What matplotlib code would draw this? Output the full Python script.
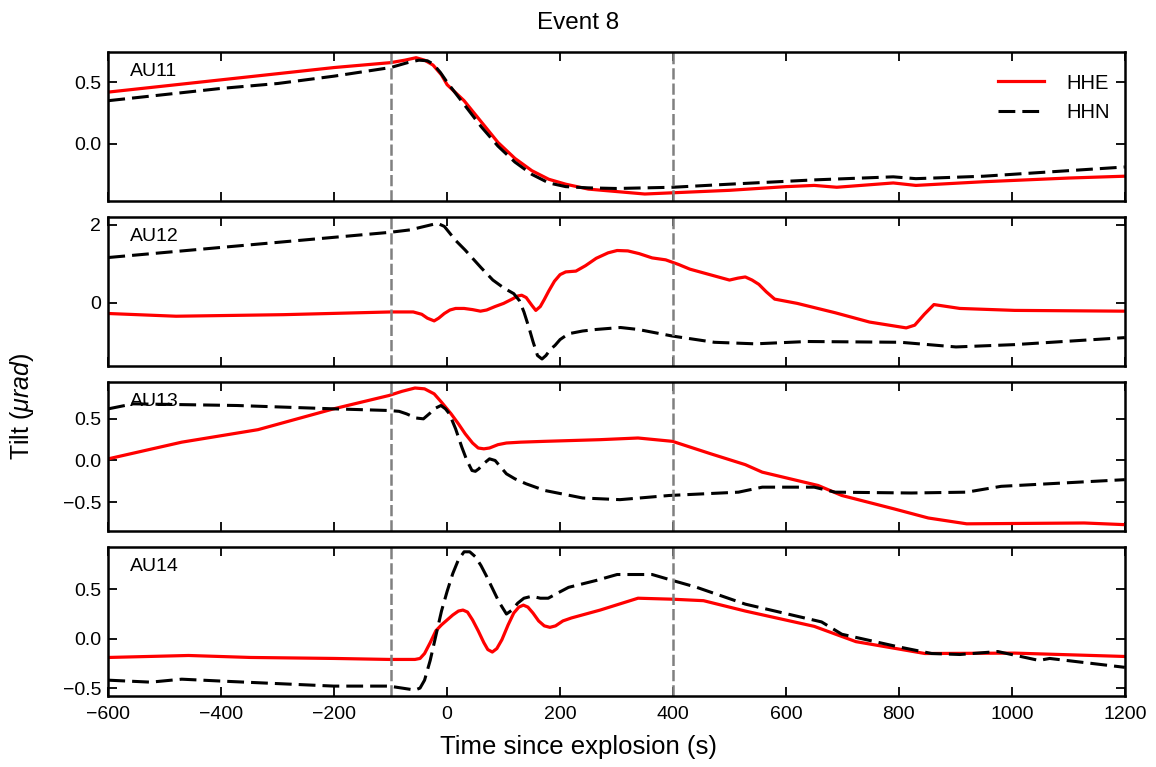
import matplotlib
matplotlib.use("Agg")
import matplotlib.pyplot as plt

plt.rcParams["font.family"] = ["Liberation Sans", "DejaVu Sans"]
plt.rcParams["mathtext.fontset"] = "custom"
plt.rcParams["mathtext.rm"] = "Liberation Sans"
plt.rcParams["mathtext.it"] = "Liberation Sans:italic"

stations = ["AU11", "AU12", "AU13", "AU14"]
event_title = "Event 8"
window_marks = [-100, 400]

# tilt records, seconds relative to the explosion
au11_t_e = [-600, -500, -400, -300, -200, -100, -75, -55, -40, -25, -10, 0, 30, 60, 90, 120, 150, 180, 210,
            250, 300, 350, 400, 500, 600, 650, 690, 790, 830, 950, 1100, 1200]
au11_hhe = [0.42, 0.47, 0.52, 0.57, 0.62, 0.66, 0.68, 0.70, 0.68, 0.64, 0.56, 0.48, 0.35, 0.18, 0.01, -0.12,
            -0.22, -0.29, -0.33, -0.37, -0.39, -0.41, -0.40, -0.38, -0.35, -0.34, -0.355, -0.32, -0.34, -0.31,
            -0.28, -0.265]
au11_t_n = [-600, -500, -400, -300, -200, -100, -70, -50, -35, -25, -12, 0, 30, 60, 90, 120, 150, 180, 210,
            250, 300, 400, 500, 650, 790, 830, 950, 1100, 1200]
au11_hhn = [0.35, 0.40, 0.45, 0.49, 0.55, 0.62, 0.66, 0.68, 0.675, 0.65, 0.58, 0.50, 0.32, 0.14, -0.02, -0.15,
            -0.25, -0.32, -0.35, -0.36, -0.365, -0.355, -0.33, -0.295, -0.27, -0.285, -0.265, -0.22, -0.19]

au12_t_e = [-600, -480, -290, -100, -60, -45, -35, -23, -15, -5, 5, 15, 30, 45, 59, 70, 85, 100, 115, 125, 132,
            140, 150, 157, 165, 172, 180, 190, 200, 210, 228, 245, 264, 285, 301, 320, 340, 363, 387, 410, 430,
            470, 500, 515, 528, 540, 552, 565, 580, 620, 687, 748, 813, 828, 845, 862, 908, 1005, 1200]
au12_hhe = [-0.28, -0.35, -0.31, -0.24, -0.24, -0.30, -0.40, -0.47, -0.40, -0.28, -0.19, -0.15, -0.15, -0.18,
            -0.22, -0.19, -0.10, -0.02, 0.09, 0.17, 0.19, 0.13, -0.07, -0.20, -0.10, 0.08, 0.30, 0.55, 0.72, 0.79,
            0.81, 0.95, 1.14, 1.28, 1.34, 1.33, 1.26, 1.15, 1.10, 0.98, 0.86, 0.70, 0.58, 0.63, 0.66, 0.58, 0.47,
            0.28, 0.09, -0.02, -0.26, -0.50, -0.65, -0.58, -0.30, -0.05, -0.15, -0.20, -0.22]
au12_t_n = [-600, -400, -200, -100, -66, -17, -5, 5, 15, 32, 60, 81, 100, 118, 128, 136, 145, 152, 160, 168,
            175, 183, 191, 200, 215, 240, 264, 307, 338, 399, 473, 546, 638, 803, 901, 1005, 1200]
au12_hhn = [1.16, 1.42, 1.68, 1.81, 1.87, 2.04, 1.96, 1.78, 1.60, 1.35, 0.90, 0.58, 0.38, 0.23, 0.05, -0.24,
            -0.65, -1.00, -1.36, -1.45, -1.36, -1.20, -1.10, -0.95, -0.80, -0.73, -0.69, -0.64, -0.69, -0.86,
            -1.02, -1.06, -1.00, -1.02, -1.14, -1.08, -0.90]

au13_t_e = [-600, -470, -335, -201, -103, -80, -57, -40, -23, -10, 7, 20, 32, 45, 55, 65, 75, 90, 105, 130, 173,
            271, 338, 399, 467, 528, 558, 657, 699, 791, 852, 920, 1128, 1200]
au13_hhe = [0.02, 0.22, 0.37, 0.62, 0.78, 0.83, 0.87, 0.86, 0.80, 0.70, 0.56, 0.44, 0.32, 0.21, 0.15, 0.14, 0.15,
            0.19, 0.21, 0.22, 0.23, 0.25, 0.27, 0.23, 0.08, -0.05, -0.14, -0.30, -0.42, -0.58, -0.69, -0.76, -0.75,
            -0.77]
au13_t_n = [-600, -556, -372, -201, -103, -85, -72, -55, -42, -30, -20, -11, -3, 4, 15, 26, 35, 44, 50, 56, 66,
            75, 85, 95, 105, 120, 140, 173, 240, 306, 393, 516, 558, 650, 687, 822, 920, 981, 1200]
au13_hhn = [0.62, 0.68, 0.66, 0.62, 0.60, 0.59, 0.56, 0.51, 0.50, 0.57, 0.63, 0.66, 0.62, 0.56, 0.38, 0.16, 0.0,
            -0.12, -0.13, -0.10, -0.03, 0.02, 0.0, -0.08, -0.16, -0.22, -0.28, -0.36, -0.45, -0.47, -0.42, -0.38,
            -0.32, -0.32, -0.38, -0.39, -0.38, -0.31, -0.23]

au14_t_e = [-600, -458, -348, -200, -103, -57, -48, -40, -30, -20, -10, 0, 10, 20, 28, 36, 45, 55, 65, 72, 80,
            88, 97, 108, 118, 127, 135, 143, 152, 162, 172, 182, 192, 205, 220, 271, 338, 399, 454, 528, 650, 724,
            846, 1005, 1200]
au14_hhe = [-0.19, -0.17, -0.19, -0.20, -0.21, -0.21, -0.20, -0.15, -0.04, 0.08, 0.14, 0.19, 0.24, 0.28, 0.29,
            0.27, 0.19, 0.08, -0.04, -0.11, -0.135, -0.10, -0.01, 0.14, 0.26, 0.32, 0.34, 0.32, 0.26, 0.18, 0.13,
            0.115, 0.13, 0.18, 0.21, 0.29, 0.41, 0.40, 0.385, 0.28, 0.125, -0.03, -0.15, -0.146, -0.18]
au14_t_n = [-600, -525, -470, -397, -201, -103, -57, -48, -40, -30, -20, -10, 0, 10, 20, 30, 40, 50, 60, 70, 81,
            92, 105, 115, 125, 136, 150, 165, 179, 195, 215, 264, 301, 363, 399, 442, 528, 663, 699, 797, 858, 908,
            975, 1048, 1067, 1200]
au14_hhn = [-0.42, -0.44, -0.41, -0.43, -0.48, -0.48, -0.52, -0.50, -0.42, -0.22, 0.03, 0.28, 0.48, 0.66, 0.80,
            0.88, 0.88, 0.83, 0.74, 0.63, 0.50, 0.37, 0.25, 0.29, 0.36, 0.41, 0.43, 0.41, 0.41, 0.46, 0.52, 0.59,
            0.65, 0.65, 0.59, 0.52, 0.35, 0.17, 0.045, -0.08, -0.15, -0.16, -0.13, -0.22, -0.20, -0.29]

records = [
    (au11_t_e, au11_hhe, au11_t_n, au11_hhn),
    (au12_t_e, au12_hhe, au12_t_n, au12_hhn),
    (au13_t_e, au13_hhe, au13_t_n, au13_hhn),
    (au14_t_e, au14_hhe, au14_t_n, au14_hhn),
]
ylims = [(-0.467, 0.749), (-1.63, 2.21), (-0.846, 0.946), (-0.58, 0.932)]
yticks = [[0.0, 0.5], [0, 2], [-0.5, 0.0, 0.5], [-0.5, 0.0, 0.5]]
xticks = list(range(-600, 1201, 200))

fig, axes = plt.subplots(4, 1, figsize=(11.56, 7.67), dpi=100, sharex=True)
fig.subplots_adjust(left=0.0937, right=0.973, top=0.9326, bottom=0.0926, hspace=0.105)

for ax, name, (te, he, tn, hn), yl, yt in zip(axes, stations, records, ylims, yticks):
    ax.plot(te, he, color="red", lw=2.3, label="HHE")
    ax.plot(tn, hn, color="black", lw=2.2, ls=(0, (5.5, 2.3)), label="HHN")
    for xm in window_marks:
        ax.axvline(xm, color="gray", lw=1.8, ls=(0, (4.5, 1.6)))
    ax.text(0.021, 0.87, name, transform=ax.transAxes, fontsize=14, va="center", ha="left")
    ax.set_xlim(-600, 1200)
    ax.set_ylim(*yl)
    ax.set_yticks(yt)
    ax.set_xticks(xticks)
    ax.tick_params(direction="in", top=True, right=True, length=6.5, width=1.3, labelsize=14, pad=5)
    ax.tick_params(axis="x", pad=7)
    for sp in ax.spines.values():
        sp.set_linewidth(1.8)

axes[0].legend(loc="upper right", bbox_to_anchor=(1.0, 0.955), borderaxespad=0.35, frameon=False,
               fontsize=14.5, handlelength=2.3, handletextpad=1.1, labelspacing=0.5)
fig.text(0.5, 0.026, "Time since explosion (s)", fontsize=18.5, ha="center", va="center")
fig.text(0.019, 0.47, r"Tilt ($\mu rad$)", rotation=90, fontsize=18, va="center", ha="center")
fig.suptitle(event_title, fontsize=17.5, y=0.985)

fig.savefig("out.png", dpi=100)
